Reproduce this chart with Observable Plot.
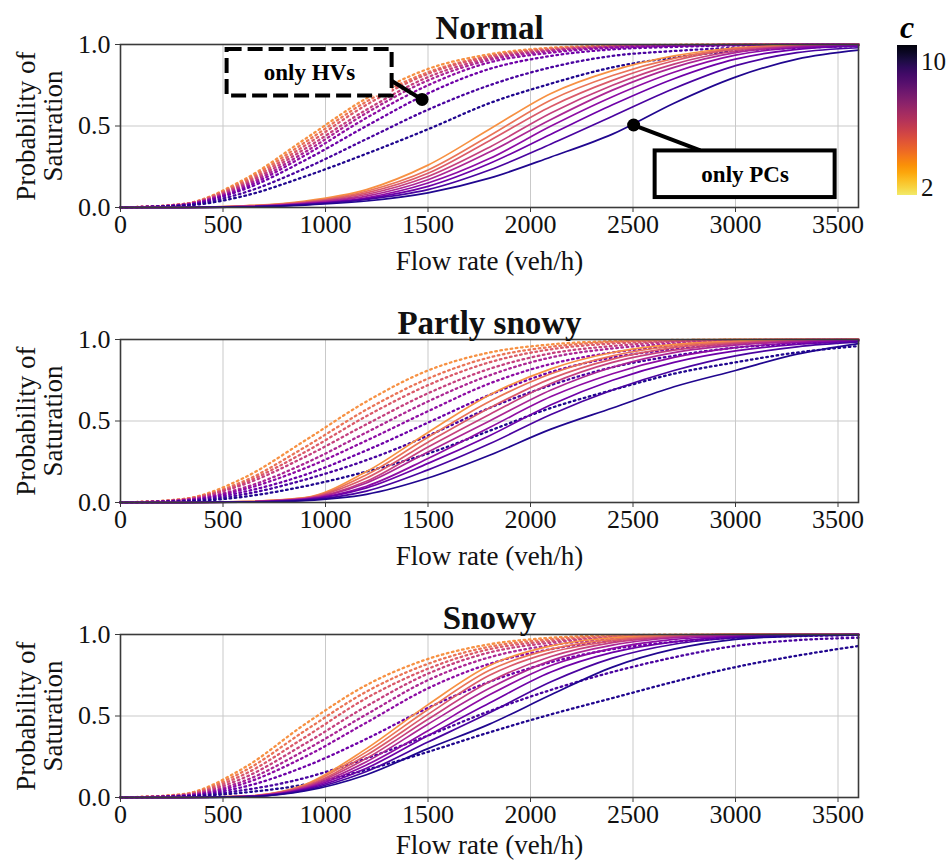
<!DOCTYPE html>
<html>
<head>
<meta charset="utf-8">
<script src="https://cdn.jsdelivr.net/npm/d3@7"></script>
<script src="https://cdn.jsdelivr.net/npm/@observablehq/plot@0.6"></script>
<style>
  body { margin: 0; background: #fff; }
  #wrap { position: relative; width: 950px; height: 862px; overflow: hidden; background: #fff; }
  #wrap svg { display: block; }
  #wrap svg text { font-family: 'Liberation Serif', 'Times New Roman', serif !important; }
  #cbar { position: absolute; left: 878px; top: 0; }
</style>
</head>
<body>
<div id="wrap"><div id="panels"></div><div id="cbar"></div></div>
<script>
// ---------- data ----------
const flow = [0, 300, 600, 900, 1200, 1500, 1800, 2100, 2400, 2700, 3000, 3300, 3600];
const cLevels = [2, 3, 4, 5, 6, 7, 8, 9, 10];
const xTicks = [0, 500, 1000, 1500, 2000, 2500, 3000, 3500];
const yTicks = [0, 0.5, 1];
const panelTitles = ["Normal", "Partly snowy", "Snowy"];

// Normal – only PCs (solid), rows c = 2..10
const normalPC = [
  [0, .001, .010, .040, .110, .260, .480, .700, .840, .930, .980, .995, 1],
  [0, .001, .009, .035, .100, .230, .440, .660, .810, .915, .975, .993, 1],
  [0, .001, .008, .032, .090, .210, .410, .620, .780, .900, .970, .990, .998],
  [0, .001, .007, .029, .080, .190, .370, .580, .750, .880, .960, .988, .997],
  [0, .001, .006, .026, .070, .170, .340, .540, .720, .860, .950, .985, .995],
  [0, 0, .005, .023, .060, .150, .300, .500, .680, .830, .935, .980, .993],
  [0, 0, .004, .020, .055, .130, .270, .450, .630, .790, .910, .970, .990],
  [0, 0, .004, .018, .050, .110, .230, .390, .560, .730, .870, .950, .980],
  [0, 0, .003, .015, .040, .090, .180, .310, .450, .640, .800, .910, .965]
];
// Normal – only HVs (dotted)
const normalHV = [
  [0, .020, .170, .420, .670, .850, .940, .980, .993, .998, 1, 1, 1],
  [0, .020, .160, .400, .650, .830, .930, .975, .990, .997, 1, 1, 1],
  [0, .020, .150, .380, .630, .820, .925, .970, .990, .996, .999, 1, 1],
  [0, .018, .140, .360, .600, .800, .915, .965, .987, .995, .999, 1, 1],
  [0, .017, .130, .340, .580, .780, .905, .960, .985, .994, .998, 1, 1],
  [0, .016, .120, .320, .550, .750, .890, .950, .980, .992, .997, .999, 1],
  [0, .014, .110, .290, .500, .700, .850, .930, .970, .985, .994, .998, 1],
  [0, .012, .090, .240, .420, .600, .750, .860, .930, .960, .980, .990, .995],
  [0, .010, .070, .190, .330, .480, .640, .760, .860, .920, .960, .980, .990]
];
// Partly snowy – only PCs
const partlyPC = [
  [0, 0, .006, .030, .190, .430, .660, .820, .920, .970, .990, .997, 1],
  [0, 0, .005, .028, .170, .400, .620, .790, .900, .960, .985, .995, 1],
  [0, 0, .005, .026, .150, .370, .580, .760, .880, .950, .980, .993, .999],
  [0, 0, .004, .024, .130, .340, .540, .730, .860, .935, .975, .990, .998],
  [0, 0, .004, .022, .120, .310, .500, .690, .830, .920, .965, .987, .997],
  [0, 0, .003, .020, .100, .270, .460, .650, .790, .890, .950, .980, .995],
  [0, 0, .003, .018, .090, .240, .410, .600, .750, .860, .930, .970, .990],
  [0, 0, .002, .015, .070, .200, .360, .540, .690, .810, .900, .955, .985],
  [0, 0, .002, .012, .050, .150, .290, .450, .580, .710, .810, .910, .975]
];
// Partly snowy – only HVs
const partlyHV = [
  [0, .020, .150, .380, .620, .810, .920, .970, .990, .997, 1, 1, 1],
  [0, .020, .130, .340, .570, .760, .890, .955, .985, .995, .999, 1, 1],
  [0, .018, .120, .310, .530, .720, .860, .940, .975, .990, .997, 1, 1],
  [0, .016, .110, .280, .480, .670, .820, .915, .960, .985, .995, .998, 1],
  [0, .014, .090, .240, .430, .620, .780, .890, .945, .975, .990, .996, .999],
  [0, .012, .080, .210, .380, .560, .730, .850, .920, .960, .985, .994, .998],
  [0, .010, .065, .170, .320, .490, .660, .800, .890, .940, .975, .990, .995],
  [0, .008, .050, .140, .260, .410, .580, .720, .830, .900, .950, .975, .990],
  [0, .005, .035, .100, .190, .300, .440, .580, .690, .790, .860, .920, .960]
];
// Snowy – only PCs
const snowyPC = [
  [0, 0, .008, .080, .300, .570, .810, .930, .980, .995, 1, 1, 1],
  [0, 0, .007, .075, .280, .540, .780, .910, .970, .993, .999, 1, 1],
  [0, 0, .007, .070, .260, .510, .750, .890, .960, .990, .998, 1, 1],
  [0, 0, .006, .065, .240, .480, .710, .865, .950, .985, .997, 1, 1],
  [0, 0, .006, .060, .220, .450, .670, .840, .935, .980, .995, .999, 1],
  [0, 0, .005, .055, .200, .410, .630, .810, .915, .970, .990, .998, 1],
  [0, 0, .005, .050, .180, .380, .580, .770, .890, .955, .985, .996, 1],
  [0, 0, .004, .045, .160, .340, .520, .710, .855, .940, .980, .994, .999],
  [0, 0, .004, .040, .140, .300, .450, .630, .800, .910, .970, .990, .998]
];
// Snowy – only HVs
const snowyHV = [
  [0, .020, .180, .450, .690, .850, .940, .980, .995, .999, 1, 1, 1],
  [0, .018, .160, .410, .650, .820, .925, .970, .990, .997, 1, 1, 1],
  [0, .016, .140, .370, .610, .790, .910, .960, .985, .995, .999, 1, 1],
  [0, .014, .120, .330, .560, .760, .890, .950, .980, .993, .998, 1, 1],
  [0, .012, .100, .290, .510, .720, .860, .935, .970, .990, .997, .999, 1],
  [0, .010, .085, .250, .460, .670, .820, .910, .960, .985, .995, .998, 1],
  [0, .009, .065, .190, .360, .550, .710, .830, .910, .955, .980, .990, .995],
  [0, .007, .045, .120, .240, .380, .530, .660, .770, .860, .930, .965, .980],
  [0, .005, .030, .080, .170, .280, .400, .510, .610, .710, .800, .870, .930]
];

// annotations (data units, Normal panel only)
const hvBox = {x1: 520, x2: 1325, y1: 0.684, y2: 0.969, label: "only HVs", tx: 922, ty: 0.826};
const hvArrow = {x1: 1282, y1: 0.808, x2: 1471, y2: 0.663};
const pcBox = {x1: 2608, x2: 3486, y1: 0.061, y2: 0.347, label: "only PCs", tx: 3047, ty: 0.204};
const pcArrow = {x1: 2503, y1: 0.506, x2: 2828, y2: 0.351};

const panels = [
  {title: panelTitles[0], pc: normalPC, hv: normalHV, notes: true},
  {title: panelTitles[1], pc: partlyPC, hv: partlyHV, notes: false},
  {title: panelTitles[2], pc: snowyPC, hv: snowyHV, notes: false}
];

// ---------- drawing ----------
const FONT = "'Liberation Serif', 'Times New Roman', serif";
const curveColor = t => d3.interpolatePlasma(0.74 - 0.71 * t);

function toRows(vals, c, type) {
  return vals.map((p, j) => ({flow: flow[j], p, c, type}));
}

panels.forEach((pn, k) => {
  const last = k === panels.length - 1;
  const rows = cLevels.flatMap((c, i) => [...toRows(pn.hv[i], c, "HV"), ...toRows(pn.pc[i], c, "PC")]);
  const marks = [
    Plot.gridX(xTicks, {stroke: "#c9c9c9", strokeOpacity: 1, strokeWidth: 1}),
    Plot.gridY(yTicks, {stroke: "#c9c9c9", strokeOpacity: 1, strokeWidth: 1}),
    Plot.line(rows.filter(d => d.type === "HV"), {
      x: "flow", y: "p", z: "c", stroke: "c", strokeWidth: 2.3,
      strokeDasharray: "1.6,3.6", curve: "monotone-x"
    }),
    Plot.line(rows.filter(d => d.type === "PC"), {
      x: "flow", y: "p", z: "c", stroke: "c", strokeWidth: 1.7, curve: "monotone-x"
    }),
    Plot.frame({stroke: "#3a3a3a", strokeWidth: 1.6}),
    Plot.axisX({ticks: xTicks, tickFormat: d => String(d), tickSize: 5, tickPadding: 2,
      fontSize: 26, fontFamily: FONT, label: null, stroke: "#3a3a3a", fill: "#111"}),
    Plot.axisY({ticks: yTicks, tickFormat: d3.format(".1f"), tickSize: 5, tickPadding: 5,
      fontSize: 26, fontFamily: FONT, label: null, stroke: "#3a3a3a", fill: "#111"}),
    Plot.text([pn.title], {frameAnchor: "top", lineAnchor: "bottom", dy: -6,
      fontSize: 33, fontWeight: "bold", fontFamily: FONT, fill: "#111"}),
    Plot.text(["Probability of\nSaturation"], {frameAnchor: "left", rotate: -90, dx: -81,
      lineAnchor: "middle", textAnchor: "middle", lineHeight: 1.0, fontSize: 27, fontFamily: FONT, fill: "#111"}),
    Plot.text(["Flow rate (veh/h)"], {frameAnchor: "bottom", lineAnchor: "middle", dy: last ? 48 : 54,
      fontSize: 27, fontFamily: FONT, fill: "#111"})
  ];
  if (pn.notes) {
    marks.push(
      Plot.link([hvArrow], {x1: "x1", y1: "y1", x2: "x2", y2: "y2", stroke: "black", strokeWidth: 4}),
      Plot.rect([hvBox], {x1: "x1", x2: "x2", y1: "y1", y2: "y2", fill: "white", stroke: "black",
        strokeWidth: 4, strokeDasharray: "15,6"}),
      Plot.text([hvBox], {x: "tx", y: "ty", text: "label", fontSize: 23, fontWeight: "bold", fontFamily: FONT, fill: "#000"}),
      Plot.dot([hvArrow], {x: "x2", y: "y2", r: 6.5, fill: "black", stroke: "none"}),
      Plot.link([pcArrow], {x1: "x1", y1: "y1", x2: "x2", y2: "y2", stroke: "black", strokeWidth: 4}),
      Plot.rect([pcBox], {x1: "x1", x2: "x2", y1: "y1", y2: "y2", fill: "white", stroke: "black",
        strokeWidth: 4}),
      Plot.text([pcBox], {x: "tx", y: "ty", text: "label", fontSize: 23, fontWeight: "bold", fontFamily: FONT, fill: "#000"}),
      Plot.dot([pcArrow], {x: "x1", y: "y1", r: 6.5, fill: "black", stroke: "none"})
    );
  }
  const chart = Plot.plot({
    width: 870,
    height: last ? 272 : 295,
    marginLeft: 120,
    marginRight: 12,
    marginTop: 44,
    marginBottom: last ? 65 : 88,
    style: {fontFamily: FONT, background: "white", color: "#111", overflow: "visible"},
    x: {domain: [0, 3600]},
    y: {domain: [0, 1]},
    color: {type: "linear", domain: [2, 10], interpolate: curveColor},
    marks
  });
  document.getElementById("panels").appendChild(chart);
});

// ---------- colour bar ----------
(function () {
  const svg = d3.select("#cbar").append("svg").attr("width", 72).attr("height", 215)
    .style("font-family", FONT);
  const grad = svg.append("defs").append("linearGradient").attr("id", "cg")
    .attr("x1", 0).attr("y1", 1).attr("x2", 0).attr("y2", 0);
  d3.range(0, 1.0001, 0.05).forEach(t => {
    grad.append("stop").attr("offset", t).attr("stop-color", d3.interpolateInferno(0.94 - 0.92 * t));
  });
  svg.append("rect").attr("x", 19).attr("y", 45).attr("width", 20).attr("height", 150).attr("fill", "url(#cg)");
  svg.append("text").attr("x", 29).attr("y", 38).attr("text-anchor", "middle")
    .attr("font-size", 32).attr("font-style", "italic").attr("font-weight", "bold").text("c");
  svg.append("text").attr("x", 43).attr("y", 70).attr("font-size", 25).attr("fill", "#111").text("10");
  svg.append("text").attr("x", 43).attr("y", 196).attr("font-size", 25).attr("fill", "#111").text("2");
})();
</script>
</body>
</html>
